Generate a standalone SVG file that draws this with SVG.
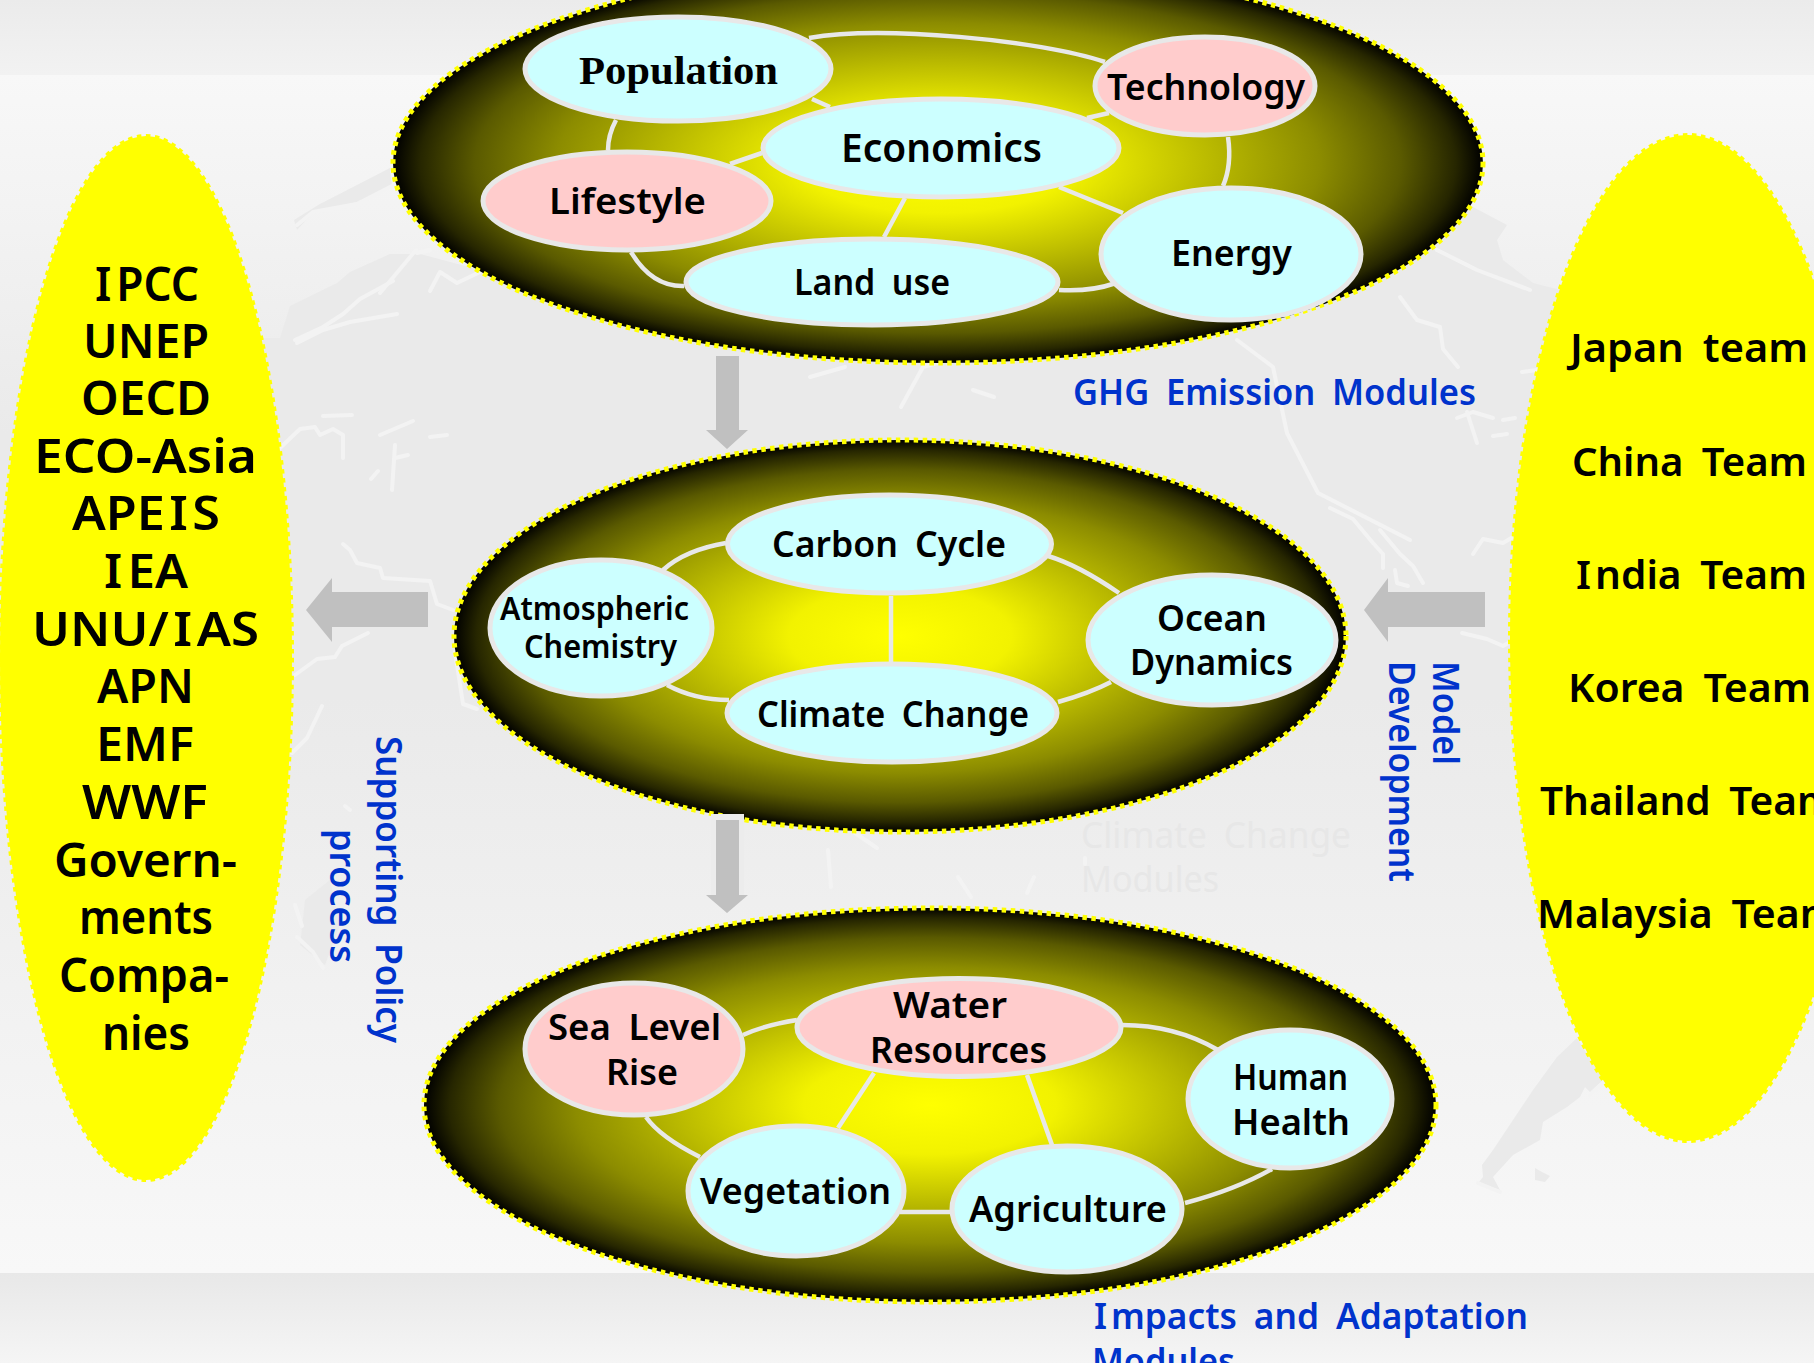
<svg xmlns="http://www.w3.org/2000/svg" width="1814" height="1363" viewBox="0 0 1814 1363">
<defs>
<linearGradient id="gBody" gradientUnits="userSpaceOnUse" x1="0" y1="75" x2="0" y2="1273"><stop offset="0" stop-color="#f8f8f8"/><stop offset="0.3" stop-color="#eaeaea"/><stop offset="0.52" stop-color="#eaeaea"/><stop offset="1" stop-color="#f8f8f8"/></linearGradient>
<linearGradient id="gTop" x1="0" y1="0" x2="0" y2="1"><stop offset="0" stop-color="#ebebeb"/><stop offset="1" stop-color="#f2f2f2"/></linearGradient>
<linearGradient id="gBot" x1="0" y1="0" x2="0" y2="1"><stop offset="0" stop-color="#e8e8e8"/><stop offset="1" stop-color="#f5f5f5"/></linearGradient>
<radialGradient id="gGlow" cx="0.5" cy="0.5" r="0.5"><stop offset="0" stop-color="#ffff00"/><stop offset="0.25" stop-color="#f2f200"/><stop offset="0.5" stop-color="#baba00"/><stop offset="0.7" stop-color="#8c8c00"/><stop offset="0.85" stop-color="#5a5a00"/><stop offset="0.95" stop-color="#262600"/><stop offset="1" stop-color="#000000"/></radialGradient>
</defs>
<style>
.land{fill:#eaeaea;stroke:none}
.coast{fill:none;stroke:#f3f3f3;stroke-width:4;stroke-linecap:round;stroke-linejoin:round}
.hub{fill:url(#gGlow);stroke:#ffff00;stroke-width:5;stroke-dasharray:4.5 4.5}
.side{fill:#ffff00;stroke:#ffff00;stroke-width:4;stroke-dasharray:4.5 4.5}
.n{fill:#ccffff;stroke:#e8e8e8;stroke-width:5}
.p{fill:#ffcccc;stroke:#e8e8e8;stroke-width:5}
.link{fill:none;stroke:#e8e8e8;stroke-width:4.5}
.arrow{fill:#c0c0c0}
text{font-family:"Noto Sans","Liberation Sans",sans-serif;font-weight:600;fill:#000;word-spacing:8px}
.s36{font-size:36px}
.s40{font-size:40px}
.s32{font-size:32px}
.list{font-size:46px}
.blue{fill:#0033cc;font-size:36px;font-weight:600}
.ghost{fill:#e7e7e7;font-size:36px;font-weight:400}
.serif{font-family:"Liberation Serif",serif;font-weight:700;font-size:41px}
</style>
<rect id="bg-body" x="0" y="75" width="1814" height="1198" fill="url(#gBody)"/>
<rect id="bg-top" x="0" y="0" width="1814" height="75" fill="url(#gTop)"/>
<rect id="bg-bottom" x="0" y="1273" width="1814" height="90" fill="url(#gBot)"/>
<g id="map">
<polygon class="land" points="294,220 320,204 390,168 392,186 357,202 313,212 297,230"/>
<polygon class="land" points="200,338 280,338 290,306 337,283 350,272 390,254 420,254 480,270 700,250 1300,200 1473,207 1507,225 1497,240 1503,260 1533,283 1600,300 1600,440 200,440"/>
<polygon class="land" points="1577,1038 1557,1057 1533,1090 1493,1150 1482,1165 1483,1177 1478,1183 1500,1190 1493,1177 1513,1155 1540,1140 1543,1122 1567,1107 1580,1097 1585,1087 1590,1092 1603,1080"/>
<polygon class="land" points="1535,1168 1542,1172 1550,1176 1545,1182 1535,1180"/>
<polygon class="land" points="305,900 330,880 340,925 325,965 300,945"/>
<polyline class="coast" points="297,225 313,212 357,204 392,186"/>
<polyline class="coast" points="295,340 323,327 343,314 360,299 393,281"/>
<polyline class="coast" points="297,343 323,330 350,322 397,314"/>
<polyline class="coast" points="430,291 440,272 457,283 480,272"/>
<polyline class="coast" points="417,253 430,250"/>
<polyline class="coast" points="280,448 300,429 315,427 320,435 333,429 343,435 343,458"/>
<polyline class="coast" points="323,416 352,415"/>
<polyline class="coast" points="380,435 413,421"/>
<polyline class="coast" points="395,445 392,490"/>
<polyline class="coast" points="371,479 378,471"/>
<polyline class="coast" points="430,437 447,435"/>
<polyline class="coast" points="395,458 408,455"/>
<polyline class="coast" points="343,544 350,550 357,563 380,568 383,578 430,581 437,604 453,610"/>
<polyline class="coast" points="295,675 317,659 335,657 342,646 368,633"/>
<polyline class="coast" points="292,753 307,738 322,706"/>
<polyline class="coast" points="455,652 463,704 477,709"/>
<polyline class="coast" points="345,806 350,810"/>
<polyline class="coast" points="295,905 302,926"/>
<polyline class="coast" points="297,937 313,952 323,968"/>
<polyline class="coast" points="1330,508 1353,519 1373,543 1383,554 1383,568"/>
<polyline class="coast" points="1380,530 1400,554 1413,566 1423,583"/>
<polyline class="coast" points="1395,570 1397,583 1408,586"/>
<polyline class="coast" points="1473,554 1483,539 1503,543 1513,537"/>
<polyline class="coast" points="1462,633 1487,639 1503,646 1512,641"/>
<polyline class="coast" points="1400,297 1417,320 1440,327 1443,349 1458,367"/>
<polyline class="coast" points="1467,412 1477,443"/>
<polyline class="coast" points="1503,420 1515,418"/>
<polyline class="coast" points="1493,436 1507,434"/>
<polyline class="coast" points="1457,418 1473,412 1493,418"/>
<polyline class="coast" points="1437,250 1477,270 1530,290"/>
<polyline class="coast" points="1522,372 1537,370"/>
<polyline class="coast" points="1237,340 1273,367 1287,433 1318,493 1410,540"/>
<polyline class="coast" points="810,377 845,367"/>
<polyline class="coast" points="901,407 923,367 937,363"/>
<polyline class="coast" points="973,390 994,397"/>
<polyline class="coast" points="380,293 416,250"/>
<polyline class="coast" points="855,833 877,848"/>
<polyline class="coast" points="828,850 831,887"/>
<polyline class="coast" points="958,877 971,897"/>
<polyline class="coast" points="1034,877 1027,893"/>
<polyline class="coast" points="1085,858 1085,864"/>
<polyline class="coast" points="1478,1183 1500,1192"/>
<polyline class="coast" points="1590,1095 1603,1083"/>
</g>
<g id="faint-label">
<text class="ghost" x="1081" y="848" textLength="270" lengthAdjust="spacingAndGlyphs">Climate Change</text>
<text class="ghost" x="1081" y="892" textLength="138" lengthAdjust="spacingAndGlyphs">Modules</text>
</g>
<g id="stakeholders">
<ellipse class="side" cx="146" cy="658" rx="146" ry="522"/>
<text class="list" x="95" y="301" textLength="104" lengthAdjust="spacingAndGlyphs">I<tspan dx="5">PCC</tspan></text>
<text class="list" x="83" y="358" textLength="126" lengthAdjust="spacingAndGlyphs">UNEP</text>
<text class="list" x="81" y="415" textLength="130" lengthAdjust="spacingAndGlyphs">OECD</text>
<text class="list" x="34" y="473" textLength="223" lengthAdjust="spacingAndGlyphs">ECO-Asia</text>
<text class="list" x="72" y="530" textLength="148" lengthAdjust="spacingAndGlyphs">APE<tspan dx="4">I</tspan><tspan dx="4">S</tspan></text>
<text class="list" x="104" y="588" textLength="84" lengthAdjust="spacingAndGlyphs">I<tspan dx="5">EA</tspan></text>
<text class="list" x="32" y="646" textLength="227" lengthAdjust="spacingAndGlyphs">UNU/<tspan dx="4">I</tspan><tspan dx="4">AS</tspan></text>
<text class="list" x="97" y="703" textLength="97" lengthAdjust="spacingAndGlyphs">APN</text>
<text class="list" x="96" y="761" textLength="98" lengthAdjust="spacingAndGlyphs">EMF</text>
<text class="list" x="82" y="819" textLength="126" lengthAdjust="spacingAndGlyphs">WWF</text>
<text class="list" x="54" y="877" textLength="183" lengthAdjust="spacingAndGlyphs">Govern-</text>
<text class="list" x="79" y="934" textLength="134" lengthAdjust="spacingAndGlyphs">ments</text>
<text class="list" x="59" y="992" textLength="170" lengthAdjust="spacingAndGlyphs">Compa-</text>
<text class="list" x="102" y="1050" textLength="88" lengthAdjust="spacingAndGlyphs">nies</text>
</g>
<g id="teams">
<ellipse class="side" cx="1688" cy="638" rx="178" ry="503"/>
<text class="s40" x="1570" y="362" textLength="238" lengthAdjust="spacingAndGlyphs">Japan team</text>
<text class="s40" x="1572" y="476" textLength="235" lengthAdjust="spacingAndGlyphs">China Team</text>
<text class="s40" x="1576" y="589" textLength="231" lengthAdjust="spacingAndGlyphs">I<tspan dx="4">ndia Team</tspan></text>
<text class="s40" x="1568" y="702" textLength="243" lengthAdjust="spacingAndGlyphs">Korea Team</text>
<text class="s40" x="1540" y="815" textLength="296" lengthAdjust="spacingAndGlyphs">Thailand Team</text>
<text class="s40" x="1537" y="928" textLength="302" lengthAdjust="spacingAndGlyphs">Malaysia Team</text>
</g>
<g id="ghg-modules"><ellipse class="hub" cx="938" cy="163" rx="545" ry="200"/></g>
<g id="climate-modules"><ellipse class="hub" cx="900" cy="636" rx="446" ry="196"/></g>
<g id="impact-modules"><ellipse class="hub" cx="930" cy="1105" rx="506" ry="197"/></g>
<g id="connectors">
<path class="link" d="M809,38 C880,25 1040,40 1105,62"/>
<path class="link" d="M812,99 L830,107"/>
<path class="link" d="M616,120 Q608,135 608,150"/>
<path class="link" d="M762,153 L730,164"/>
<path class="link" d="M1109,113 L1087,118"/>
<path class="link" d="M1228,137 Q1232,165 1223,186"/>
<path class="link" d="M1059,187 L1123,213"/>
<path class="link" d="M905,198 L884,237"/>
<path class="link" d="M631,252 Q652,287 684,286"/>
<path class="link" d="M1059,290 Q1090,292 1116,283"/>
<path class="link" d="M726,543 Q685,550 663,570"/>
<path class="link" d="M1048,556 Q1078,565 1119,593"/>
<path class="link" d="M891,596 L891,662"/>
<path class="link" d="M667,685 Q695,700 729,700"/>
<path class="link" d="M1058,702 Q1090,693 1111,682"/>
<path class="link" d="M743,1035 Q765,1025 797,1020"/>
<path class="link" d="M1122,1025 Q1175,1025 1218,1050"/>
<path class="link" d="M646,1117 Q660,1137 700,1157"/>
<path class="link" d="M874,1073 L838,1128"/>
<path class="link" d="M1027,1075 L1052,1145"/>
<path class="link" d="M900,1212 L950,1212"/>
<path class="link" d="M1185,1203 Q1235,1190 1272,1169"/>
<polygon class="arrow" points="716,356 739,356 739,430 748,430 727,449 706,430 716,430"/>
<rect x="711" y="814" width="33" height="81" fill="#ececec"/>
<polygon class="arrow" points="716,820 739,820 739,895 748,895 727,913 706,895 716,895"/>
<polygon class="arrow" points="428,592 428,627 332,627 332,642 306,610 332,578 332,592"/>
<polygon class="arrow" points="1485,592 1485,627 1388,627 1388,642 1364,610 1388,578 1388,592"/>
</g>
<g id="population"><ellipse class="n" cx="678" cy="69" rx="153" ry="52"/><text class="serif" x="579" y="84" textLength="199" lengthAdjust="spacingAndGlyphs">Population</text></g>
<g id="technology"><ellipse class="p" cx="1205" cy="86" rx="110" ry="49"/><text class="s36" x="1107" y="100" textLength="198" lengthAdjust="spacingAndGlyphs">Technology</text></g>
<g id="economics"><ellipse class="n" cx="941" cy="148" rx="178" ry="49"/><text class="s40" x="841" y="162" textLength="201" lengthAdjust="spacingAndGlyphs">Economics</text></g>
<g id="lifestyle"><ellipse class="p" cx="627" cy="201" rx="144" ry="49"/><text class="s36" x="549" y="214" textLength="157" lengthAdjust="spacingAndGlyphs">Lifestyle</text></g>
<g id="land-use"><ellipse class="n" cx="872" cy="282" rx="186" ry="43"/><text class="s36" x="794" y="295" textLength="156" lengthAdjust="spacingAndGlyphs">Land use</text></g>
<g id="energy"><ellipse class="n" cx="1231" cy="254" rx="130" ry="66"/><text class="s36" x="1171" y="266" textLength="121" lengthAdjust="spacingAndGlyphs">Energy</text></g>
<g id="carbon-cycle"><ellipse class="n" cx="889.5" cy="544" rx="162" ry="49"/><text class="s36" x="772" y="557" textLength="234" lengthAdjust="spacingAndGlyphs">Carbon Cycle</text></g>
<g id="atmospheric-chemistry"><ellipse class="n" cx="601" cy="628" rx="111" ry="68"/><text class="s32" x="500" y="620" textLength="189" lengthAdjust="spacingAndGlyphs">Atmospheric</text><text class="s32" x="524" y="658" textLength="153" lengthAdjust="spacingAndGlyphs">Chemistry</text></g>
<g id="ocean-dynamics"><ellipse class="n" cx="1212" cy="640" rx="124" ry="65"/><text class="s36" x="1157" y="631" textLength="110" lengthAdjust="spacingAndGlyphs">Ocean</text><text class="s36" x="1130" y="675" textLength="163" lengthAdjust="spacingAndGlyphs">Dynamics</text></g>
<g id="climate-change"><ellipse class="n" cx="892" cy="713" rx="165" ry="49"/><text class="s36" x="757" y="727" textLength="272" lengthAdjust="spacingAndGlyphs">Climate Change</text></g>
<g id="sea-level-rise"><ellipse class="p" cx="634" cy="1049" rx="109" ry="66"/><text class="s36" x="548" y="1040" textLength="173" lengthAdjust="spacingAndGlyphs">Sea Level</text><text class="s36" x="606" y="1085" textLength="72" lengthAdjust="spacingAndGlyphs">Rise</text></g>
<g id="water-resources"><ellipse class="p" cx="959" cy="1027.5" rx="162" ry="49"/><text class="s36" x="893" y="1018" textLength="114" lengthAdjust="spacingAndGlyphs">Water</text><text class="s36" x="870" y="1063" textLength="177" lengthAdjust="spacingAndGlyphs">Resources</text></g>
<g id="human-health"><ellipse class="n" cx="1290" cy="1099" rx="102" ry="69"/><text class="s36" x="1233" y="1090" textLength="115" lengthAdjust="spacingAndGlyphs">Human</text><text class="s36" x="1232" y="1135" textLength="118" lengthAdjust="spacingAndGlyphs">Health</text></g>
<g id="vegetation"><ellipse class="n" cx="796" cy="1191" rx="108" ry="65"/><text class="s36" x="700" y="1204" textLength="191" lengthAdjust="spacingAndGlyphs">Vegetation</text></g>
<g id="agriculture"><ellipse class="n" cx="1067" cy="1209" rx="115" ry="63"/><text class="s36" x="969" y="1222" textLength="198" lengthAdjust="spacingAndGlyphs">Agriculture</text></g>
<g id="labels">
<text class="blue" x="1073" y="405" textLength="403" lengthAdjust="spacingAndGlyphs">GHG Emission Modules</text>
<text class="blue" x="1094" y="1329" textLength="434" lengthAdjust="spacingAndGlyphs">I<tspan dx="4">mpacts and Adaptation</tspan></text>
<text class="blue" x="1092" y="1374" textLength="143" lengthAdjust="spacingAndGlyphs">Modules</text>
<text class="blue" transform="translate(376 736) rotate(90)" textLength="307" lengthAdjust="spacingAndGlyphs">Supporting Policy</text>
<text class="blue" transform="translate(330 829) rotate(90)" textLength="134" lengthAdjust="spacingAndGlyphs">process</text>
<text class="blue" transform="translate(1433 661) rotate(90)" textLength="104" lengthAdjust="spacingAndGlyphs">Model</text>
<text class="blue" transform="translate(1389 661) rotate(90)" textLength="221" lengthAdjust="spacingAndGlyphs">Development</text>
</g>
</svg>
